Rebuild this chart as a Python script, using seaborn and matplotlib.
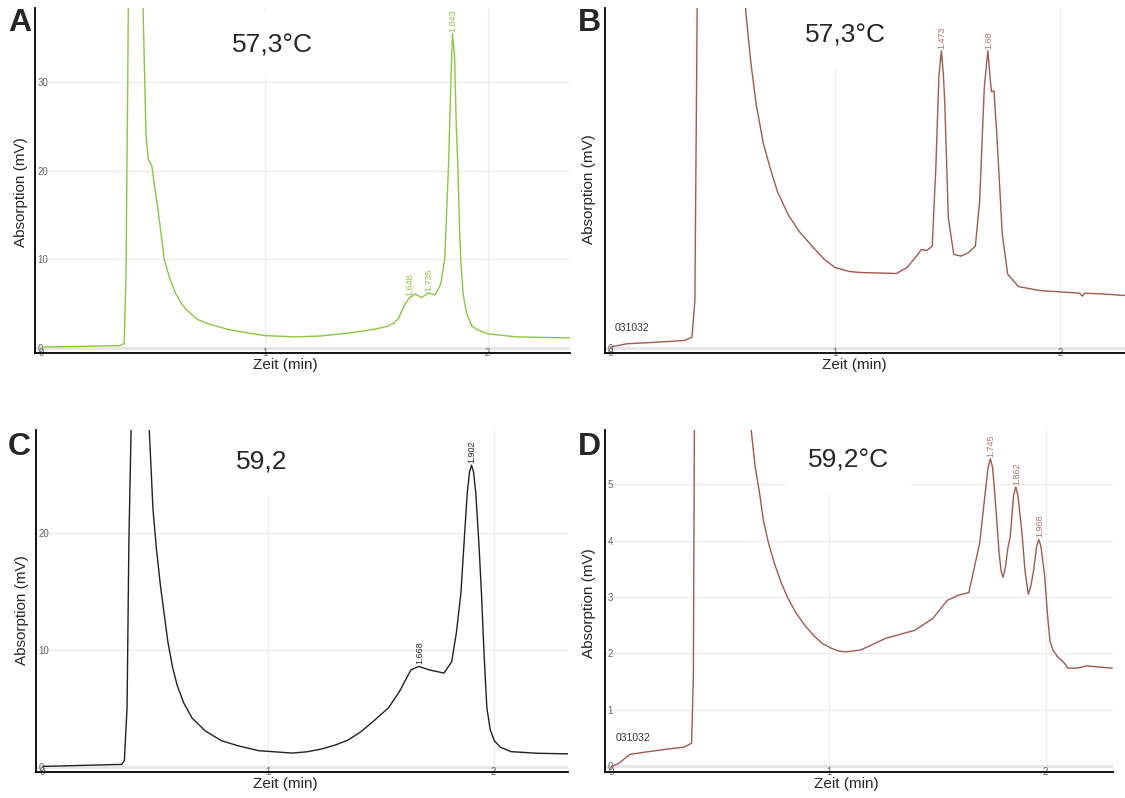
import pandas as pd
import matplotlib
matplotlib.use('Agg')
import matplotlib.pyplot as plt
import seaborn as sns

sns.set_style('white')
plt.rcParams['font.family'] = ['Liberation Sans', 'DejaVu Sans']

# A: 57,3°C (green trace)
a_time = [0, 0.35, 0.37, 0.378, 0.386, 0.395, 0.42, 0.445, 0.455, 0.468, 0.478, 0.494, 0.505, 0.52,
          0.55, 0.575, 0.60, 0.625, 0.65, 0.70, 0.75, 0.835, 0.9, 1.0, 1.135, 1.25, 1.385, 1.45,
          1.5, 1.55, 1.58, 1.6, 1.63, 1.648, 1.675, 1.705, 1.735, 1.765, 1.79, 1.808, 1.825,
          1.838, 1.843, 1.852, 1.86, 1.867, 1.875, 1.88, 1.89, 1.905, 1.93, 1.96, 2.0, 2.13, 2.37]
a_signal = [0.1, 0.26, 0.5, 8, 30, 60, 75, 60, 38, 24, 21.3, 20.6, 18.5, 16,
            10, 7.8, 6.2, 5.1, 4.3, 3.2, 2.7, 2.1, 1.8, 1.4, 1.25, 1.35, 1.7, 1.95,
            2.15, 2.45, 2.8, 3.3, 5.0, 5.6, 6.1, 5.7, 6.2, 6.0, 7.2, 10, 20.6,
            32, 35.5, 33, 25, 20.6, 13, 10, 6.2, 4.0, 2.45, 2.0, 1.6, 1.25, 1.13]
a_peaks = [1.648, 1.735, 1.843]
a_peak_heights = [5.6, 6.2, 35.5]
a_peak_labels = ['1.648', '1.735', '1.843']

# B: 57,3°C (brown trace, no y scale shown)
b_time = [0, 0.072, 0.184, 0.328, 0.363, 0.376, 0.384, 0.39, 0.45, 0.55, 0.58, 0.603, 0.624, 0.648,
          0.68, 0.712, 0.744, 0.792, 0.84, 0.904, 0.952, 1.0, 1.064, 1.112, 1.272, 1.32, 1.368,
          1.384, 1.408, 1.432, 1.448, 1.462, 1.473, 1.482, 1.488, 1.504, 1.528, 1.56, 1.592,
          1.624, 1.643, 1.664, 1.68, 1.69, 1.696, 1.707, 1.72, 1.744, 1.768, 1.816, 1.912,
          2.024, 2.088, 2.1, 2.11, 2.184, 2.29]
b_signal = [0.03, 0.13, 0.17, 0.23, 0.33, 1.45, 8.45, 14, 20, 18, 13, 10.2, 8.75, 7.45,
            6.25, 5.45, 4.75, 4.05, 3.55, 3.05, 2.7, 2.45, 2.33, 2.3, 2.27, 2.45, 2.85,
            3.0, 2.97, 3.1, 5.45, 8.3, 9.05, 8.3, 7.45, 3.95, 2.85, 2.8, 2.9,
            3.1, 4.45, 7.95, 9.05, 8.2, 7.8, 7.83, 6.45, 3.45, 2.25, 1.87, 1.75,
            1.7, 1.67, 1.58, 1.67, 1.65, 1.6]
b_peaks = [1.473, 1.68]
b_peak_heights = [9.05, 9.05]
b_peak_labels = ['1.473', '1.68']

# C: 59,2 (black trace)
c_time = [0, 0.35, 0.362, 0.374, 0.382, 0.392, 0.42, 0.46, 0.472, 0.489, 0.505, 0.522, 0.555,
          0.575, 0.596, 0.625, 0.662, 0.72, 0.793, 0.87, 0.958, 1.106, 1.17, 1.238, 1.3, 1.353,
          1.41, 1.468, 1.534, 1.583, 1.633, 1.668, 1.715, 1.78, 1.814, 1.835, 1.855, 1.87,
          1.883, 1.893, 1.902, 1.911, 1.921, 1.935, 1.946, 1.958, 1.97, 1.985, 2.003, 2.03,
          2.077, 2.193, 2.333]
c_signal = [0.06, 0.23, 0.56, 5.1, 19.2, 29, 45, 40, 29, 22, 18.5, 15.5, 10.7,
            8.6, 7.0, 5.5, 4.2, 3.1, 2.25, 1.8, 1.4, 1.2, 1.3, 1.55, 1.9, 2.3,
            3.0, 3.94, 5.07, 6.48, 8.3, 8.6, 8.3, 8.03, 9.0, 11.5, 14.9, 19.5,
            23.4, 25.2, 25.8, 25.2, 23.4, 19, 14.9, 9.5, 5.07, 3.2, 2.25, 1.7,
            1.32, 1.18, 1.13]
c_peaks = [1.668, 1.902]
c_peak_heights = [8.6, 25.8]
c_peak_labels = ['1.668', '1.902']

# D: 59,2°C (brown trace)
d_time = [0, 0.033, 0.083, 0.15, 0.266, 0.333, 0.369, 0.377, 0.382, 0.45, 0.6, 0.63, 0.645,
          0.662, 0.682, 0.70, 0.723, 0.75, 0.781, 0.81, 0.848, 0.89, 0.931, 0.97, 1.014, 1.05,
          1.081, 1.147, 1.264, 1.396, 1.48, 1.546, 1.596, 1.646, 1.696, 1.71, 1.721, 1.735,
          1.745, 1.755, 1.763, 1.771, 1.785, 1.795, 1.804, 1.815, 1.825, 1.837, 1.852, 1.862,
          1.872, 1.882, 1.892, 1.905, 1.92, 1.932, 1.945, 1.958, 1.968, 1.978, 1.995, 2.008,
          2.02, 2.035, 2.053, 2.086, 2.103, 2.145, 2.186, 2.307]
d_signal = [0, 0.05, 0.21, 0.25, 0.31, 0.34, 0.41, 1.62, 6.2, 10, 9, 6.5, 5.9,
            5.3, 4.84, 4.35, 3.96, 3.6, 3.26, 3.0, 2.73, 2.5, 2.32, 2.18, 2.09, 2.04,
            2.03, 2.06, 2.27, 2.41, 2.62, 2.94, 3.03, 3.08, 3.96, 4.45, 4.84, 5.3,
            5.45, 5.3, 4.95, 4.54, 3.8, 3.45, 3.35, 3.55, 3.85, 4.08, 4.8, 4.95,
            4.8, 4.45, 4.08, 3.45, 3.05, 3.2, 3.49, 3.9, 4.02, 3.9, 3.38, 2.7,
            2.21, 2.05, 1.95, 1.83, 1.74, 1.74, 1.78, 1.74]
d_peaks = [1.745, 1.862, 1.968]
d_peak_heights = [5.45, 4.95, 4.02]
d_peak_labels = ['1.745', '1.862', '1.968']

fig = plt.figure(figsize=(11.25, 7.98), dpi=100)

W, H = 1125, 798


def make_axes(left, top, right, bottom):
    return fig.add_axes([left / W, 1 - bottom / H, (right - left) / W, (bottom - top) / H])


def draw_panel(ax, time, signal, color, label_color, peaks, heights, labels,
               xlim, ylim, yticks, title, title_pos, xlabel_x, ylabel_xy, hgrid=True, code=None):
    df = pd.DataFrame({'t': time, 's': signal})
    for x in [1, 2]:
        ax.axvline(x, color='#ececec', lw=0.9, zorder=0)
    if hgrid:
        for y in yticks[1:]:
            ax.axhline(y, color='#ececec', lw=0.9, zorder=0)
    ax.axhline(0, color='#e6e6e6', lw=2.2, zorder=0)
    sns.lineplot(data=df, x='t', y='s', ax=ax, color=color, lw=1.0,
                 estimator=None, sort=False, zorder=3)
    ax.set_xlim(*xlim)
    ax.set_ylim(*ylim)
    ax.set_xticks([0, 1, 2])
    ax.set_xticklabels(['0', '1', '2'])
    ax.set_yticks(yticks)
    ax.set_yticklabels([str(v) for v in yticks])
    ax.tick_params(axis='x', length=0, pad=-3.5, labelsize=7, labelcolor='#666666')
    ax.tick_params(axis='y', length=0, pad=-2, labelsize=7, labelcolor='#666666')
    for lab in ax.get_yticklabels():
        lab.set_horizontalalignment('left')
    for side in ['top', 'right']:
        ax.spines[side].set_visible(False)
    for side in ['left', 'bottom']:
        ax.spines[side].set_color('black')
        ax.spines[side].set_linewidth(1.3)
    ax.set_xlabel('Zeit (min)', fontsize=11)
    ax.xaxis.set_label_coords(xlabel_x, -0.015)
    ax.set_ylabel('Absorption (mV)', fontsize=11)
    ax.yaxis.set_label_coords(*ylabel_xy)
    for px, py, txt in zip(peaks, heights, labels):
        ax.annotate(txt, (px, py), xytext=(0.5, 1.5), textcoords='offset points',
                    rotation=90, ha='center', va='bottom', fontsize=6.5,
                    color=label_color, zorder=4)
    ax.text(title_pos[0], title_pos[1], title, transform=ax.transAxes, fontsize=19,
            ha='center', va='baseline', zorder=2,
            bbox=dict(boxstyle='square,pad=0.8', facecolor='white', edgecolor='none'))
    if code:
        ax.text(code[0], code[1], '031032', transform=ax.transAxes, fontsize=7.5,
                color='#333333', ha='left', va='center', zorder=4)


green = '#8cc63f'
brown = '#a05a50'

ax_a = make_axes(35, 8, 570, 353)
draw_panel(ax_a, a_time, a_signal, green, '#8cc63f', a_peaks, a_peak_heights, a_peak_labels,
           (-0.03, 2.37), (-0.57, 38.4), [0, 10, 20, 30], '57,3°C', (0.443, 0.872),
           0.467, (-0.013, 0.467))

ax_b = make_axes(605, 8, 1125, 353)
draw_panel(ax_b, b_time, b_signal, brown, '#a8756c', b_peaks, b_peak_heights, b_peak_labels,
           (-0.024, 2.29), (-0.15, 10.35), [0], '57,3°C', (0.4615, 0.899),
           0.479, (-0.017, 0.474), hgrid=False, code=(0.019, 0.072))

ax_c = make_axes(36, 430, 568, 772)
draw_panel(ax_c, c_time, c_signal, '#222222', '#222222', c_peaks, c_peak_heights, c_peak_labels,
           (-0.03, 2.33), (-0.42, 28.8), [0, 10, 20], '59,2', (0.425, 0.886),
           0.468, (-0.013, 0.474))

ax_d = make_axes(605, 430, 1113, 772)
draw_panel(ax_d, d_time, d_signal, brown, '#a8756c', d_peaks, d_peak_heights, d_peak_labels,
           (-0.03, 2.31), (-0.1, 5.96), [0, 1, 2, 3, 4, 5], '59,2°C', (0.48, 0.889),
           0.476, (-0.018, 0.494), code=(0.021, 0.10))

for letter, x, y in [('A', 8, 8), ('B', 578, 8), ('C', 8, 432), ('D', 578, 432)]:
    fig.text(x / W, 1 - y / H, letter, fontsize=23, fontweight='bold', ha='left', va='top')

fig.savefig('out.png', dpi=100)
